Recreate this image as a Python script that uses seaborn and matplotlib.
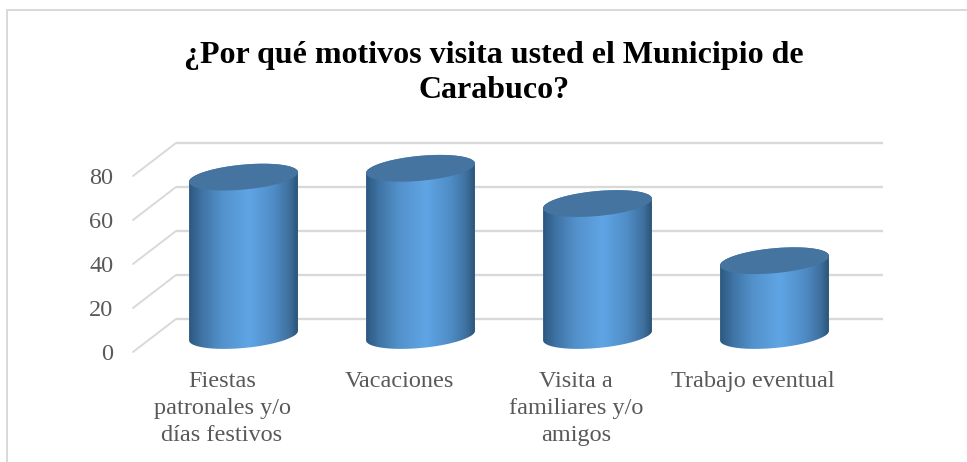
import numpy as np
import pandas as pd
import matplotlib
matplotlib.use("Agg")
import matplotlib.pyplot as plt
from matplotlib.colors import LinearSegmentedColormap
from matplotlib.lines import Line2D
from matplotlib.patches import Polygon
import seaborn as sns

categories = ["Fiestas\npatronales y/o\ndías festivos", "Vacaciones",
              "Visita a\nfamiliares y/o\namigos", "Trabajo eventual"]
values = [72, 76, 60, 34]
ticks = [0, 20, 40, 60, 80]
title = "¿Por qué motivos visita usted el Municipio de\nCarabuco?"

W, H = 967, 462
# pixel layout of the plot area
px_left, px_right, px_bottom, px_top = 133, 883, 352, 143
px_per_unit = 2.2
px_spacing = 177
px_first = 243.5
depth_x = 21.5 / px_spacing   # half of the fake 3d depth, in category units
depth_y = 16.5 / px_per_unit  # same, in value units

sns.set_theme(style="white")
plt.rcParams["font.family"] = ["Liberation Serif", "DejaVu Serif"]

fig = plt.figure(figsize=(W / 100, H / 100), dpi=100)
ax = fig.add_axes([px_left / W, 1 - px_bottom / H,
                   (px_right - px_left) / W, (px_bottom - px_top) / H])

df = pd.DataFrame({"motivo": categories, "valor": values})
sns.barplot(data=df, x="motivo", y="valor", width=0.615, color="#4f8cc4",
            zorder=3, ax=ax)

xlim = ((px_left - px_first) / px_spacing, (px_right - px_first) / px_spacing)
ylim = (-depth_y, (335.5 - px_top) / px_per_unit)

# back wall grid and the diagonals on the side wall
for t in ticks:
    ax.plot([xlim[0] + 2 * depth_x, xlim[1]], [t + depth_y, t + depth_y],
            color="#d9d9d9", lw=1.7, zorder=1, solid_capstyle="butt", clip_on=False)
    ax.plot([xlim[0], xlim[0] + 2 * depth_x], [t - depth_y, t + depth_y],
            color="#d9d9d9", lw=1.4, zorder=1, clip_on=False)

# turn each bar into a shaded cylinder
shade = LinearSegmentedColormap.from_list("cyl", [
    (0.0, "#2c587f"), (0.12, "#3f74a5"), (0.3, "#5391cb"), (0.55, "#5fa5e5"),
    (0.78, "#4f8cc6"), (0.92, "#3f719f"), (1.0, "#2b5579")])
gradient = np.linspace(0, 1, 256).reshape(1, -1)
b = 12.5 / px_per_unit
s = 4.8 / px_per_unit
for bar in ax.patches:
    cx = bar.get_x() + bar.get_width() / 2
    a = bar.get_width() / 2
    top = bar.get_height()
    t1 = np.linspace(np.pi, 2 * np.pi, 60)
    t2 = np.linspace(0, np.pi, 60)
    low = np.c_[cx + a * np.cos(t1), b * np.sin(t1) + s * np.cos(t1)]
    high = np.c_[cx + a * np.cos(t2), top + b * np.sin(t2) + s * np.cos(t2)]
    body = Polygon(np.r_[low, high], transform=ax.transData)
    bar.set_clip_path(body)
    im = ax.imshow(gradient, cmap=shade, aspect="auto", zorder=4,
                   extent=(cx - a, cx + a, -b - s, top + b + s))
    im.set_clip_path(body)
    t3 = np.linspace(0, 2 * np.pi, 120)
    ax.add_patch(Polygon(np.c_[cx + a * np.cos(t3), top + b * np.sin(t3) + s * np.cos(t3)],
                         closed=True, facecolor="#44749f", edgecolor="none", zorder=5))

ax.set_xlim(xlim)
ax.set_ylim(ylim)
ax.set_xlabel("")
ax.set_ylabel("")
ax.set_xticks([i - depth_x for i in range(len(categories))])
ax.set_xticklabels(categories, fontsize=17.5, color="#595959", linespacing=1.37)
ax.set_yticks([t - depth_y for t in ticks])
ax.set_yticklabels(ticks, fontsize=17.5, color="#595959")
ax.tick_params(axis="x", length=0, pad=14)
ax.tick_params(axis="y", length=0, pad=14)
sns.despine(ax=ax, left=True, bottom=True)
ax.patch.set_alpha(0)

fig.text(494 / W, 1 - 73 / H, title, ha="center", va="center", fontsize=23,
         fontweight="bold", color="black", linespacing=1.27)

# chart frame, only top and left are inside the crop
fig.add_artist(Line2D([7 / W, 7 / W], [0, 1 - 10 / H], color="#d9d9d9", lw=1.4))
fig.add_artist(Line2D([7 / W, 1], [1 - 10 / H, 1 - 10 / H], color="#d9d9d9", lw=1.4))

fig.savefig("out.png", dpi=100)
